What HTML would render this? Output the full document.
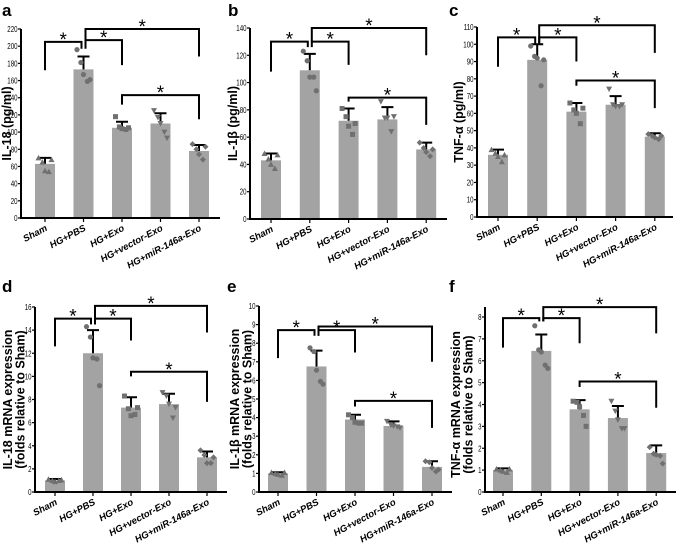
<!DOCTYPE html>
<html><head><meta charset="utf-8"><style>
html,body{margin:0;padding:0;background:#fff;}
svg{display:block;font-family:"Liberation Sans",Arial,sans-serif;}
</style></head><body>
<svg id="fig" width="676" height="549" viewBox="0 0 676 549"></svg>
<script>
const categories=["Sham","HG+PBS","HG+Exo","HG+vector-Exo","HG+miR-146a-Exo"];
// panel a
const aMeans=[63,173,105,110,78];
const aErr=[7,15,7,12,7];
const aPts=[[70,65,55,54,68],[196,181,167,159,161],[118,106,104,103,105],[125,117,110,100,93],[86,80,74,68,83]];
const aTicks=[0,20,40,60,80,100,120,140,160,180,200,220];
const aBrackets=[[0,1,205,172,197],[1,2,207,197,178],[1,4,220,205,188],[2,4,143,132,115]];
// panel b
const bMeans=[43,109,72,73,51];
const bErr=[5,12,9,9,5];
const bPts=[[48,44,40,37,47],[123,116,104,104,94],[81,75,68,62,70],[86,74,74,64,75],[56,52,49,46,51]];
const bTicks=[0,20,40,60,80,100,120,140];
const bBrackets=[[0,1,130,108,126],[1,2,130,126,113],[1,4,140,130,120],[2,4,89,86,69]];
// panel c
const cMeans=[36,91,61,65,46.5];
const cErr=[3,9,5,5,2];
const cPts=[[39,37,35,32,36],[99,93,92,76,91],[66,62,60,54,63],[74,65,64,64,65],[48,47,46,45,47]];
const cTicks=[0,10,20,30,40,50,60,70,80,90,100,110];
const cBrackets=[[0,1,104,87,100],[1,2,104,100,90],[1,4,111,100,95],[2,4,79,76,63]];
// panel d
const dMeans=[1,12,7.3,7.6,3];
const dErr=[0.12,2,0.9,0.9,0.5];
const dPts=[[1.1,1,0.9,1,1.05],[14.3,13.4,11.6,11.5,9.2],[8.3,7.2,6.6,6.7,7.3],[8.6,8.3,7.6,6.4,7.3],[3.6,3.2,2.5,2.5,3]];
const dTicks=[0,2,4,6,8,10,12,14,16];
const dBrackets=[[0,1,15,12.6,14.5],[1,2,15,14.5,13.1],[1,4,16.1,14.5,13.8],[2,4,10.4,10,7.8]];
// panel e
const eMeans=[1,6.75,3.9,3.55,1.35];
const eErr=[0.06,0.85,0.25,0.25,0.3];
const ePts=[[1.05,1,0.95,0.9,1.05],[7.75,7.55,6.55,5.95,5.8],[4.15,4,3.75,3.7,3.7],[3.8,3.6,3.55,3.5,3.45],[1.65,1.6,1.3,1.1,1.2]];
const eTicks=[0,1,2,3,4,5,6,7,8,9,10];
const eBrackets=[[0,1,8.7,7.2,8.4],[1,2,8.7,8.4,7.5],[1,4,8.9,8.4,7.0],[2,4,4.9,4.6,3.45]];
// panel f
const fMeans=[1,6.45,3.78,3.38,1.78];
const fErr=[0.08,0.75,0.42,0.55,0.35];
const fPts=[[1.05,1,0.95,0.9,1.05],[7.6,6.5,6.4,5.8,5.65],[4.15,4.1,3.9,3.5,3.0],[4.15,3.7,3.3,2.9,2.9],[2.05,1.75,1.7,1.65,1.3]];
const fTicks=[0,1,2,3,4,5,6,7,8];
const fBrackets=[[0,1,7.95,6.6,7.8],[1,2,7.95,7.8,6.8],[1,4,8.45,7.8,7.25],[2,4,5.05,4.8,3.85]];

const NS="http://www.w3.org/2000/svg";
const svg=document.getElementById('fig');
function mk(tag,attrs,parent,text){const e=document.createElementNS(NS,tag);for(const k in attrs)e.setAttribute(k,attrs[k]);if(text!==undefined)e.textContent=text;(parent||svg).appendChild(e);return e;}

const panels=[
 {id:'a',means:aMeans,err:aErr,pts:aPts,ticks:aTicks,br:aBrackets,ax:21,y0:218,yTop:29,vTop:220,x0:45,dx:38.5,xEnd:220,title:["IL-18 (pg/ml)"],tx:7,lx:2,ly:16},
 {id:'b',means:bMeans,err:bErr,pts:bPts,ticks:bTicks,br:bBrackets,ax:250,y0:219,yTop:28,vTop:140,x0:271,dx:38.8,xEnd:447,title:["IL-1β (pg/ml)"],tx:233,lx:228,ly:16},
 {id:'c',means:cMeans,err:cErr,pts:cPts,ticks:cTicks,br:cBrackets,ax:477,y0:217,yTop:27,vTop:110,x0:498,dx:39.2,xEnd:673,title:["TNF-α (pg/ml)"],tx:459,lx:449,ly:16},
 {id:'d',means:dMeans,err:dErr,pts:dPts,ticks:dTicks,br:dBrackets,ax:35,y0:492,yTop:307,vTop:16,x0:55,dx:38,xEnd:227,title:["IL-18 mRNA expression","(folds relative to Sham)"],tx:8,lx:2,ly:292},
 {id:'e',means:eMeans,err:eErr,pts:ePts,ticks:eTicks,br:eBrackets,ax:259,y0:492,yTop:306,vTop:10,x0:278,dx:38.5,xEnd:452,title:["IL-1β mRNA expression","(folds relative to Sham)"],tx:235,lx:227,ly:292},
 {id:'f',means:fMeans,err:fErr,pts:fPts,ticks:fTicks,br:fBrackets,ax:485,y0:492,yTop:317,vTop:8,x0:503,dx:38.3,xEnd:676,title:["TNF-α mRNA expression","(folds relative to Sham)"],tx:456,lx:449,ly:292,axTop:307}
];
const shapes=['tri','circ','sq','itri','diam'];
const offs=[-5,-2,0,3,5];

panels.forEach(p=>{
  const g=mk('g',{});
  
  
  const y=v=>p.y0-(v/p.vTop)*(p.y0-p.yTop);
  const x=i=>p.x0+i*p.dx;
  const lbl=mk('text',{x:p.lx,y:p.ly,'font-size':17,'font-weight':'bold'},g,p.id);
  
  
  p.means.forEach((m,i)=>{
    const r=mk('rect',{x:x(i)-10,y:y(m),width:20,height:p.y0-y(m),fill:'#a3a3a3'},g);
    
    
    const e=mk('path',{d:`M${x(i)},${y(m)}V${y(m+p.err[i])}M${x(i)-6},${y(m+p.err[i])}H${x(i)+6}`,stroke:'#000','stroke-width':2,fill:'none'},g);
    
    
    p.pts[i].forEach((v,k)=>{
      const px=x(i)+offs[k]*1.3, py=y(v), s=shapes[i];let el;
      if(s==='circ')el=mk('circle',{cx:px,cy:py,r:2.6,fill:'#707070'},g);
      else if(s==='sq')el=mk('rect',{x:px-2.5,y:py-2.5,width:5,height:5,fill:'#707070'},g);
      else if(s==='tri')el=mk('path',{d:`M${px},${py-3}L${px+3},${py+2.5}L${px-3},${py+2.5}Z`,fill:'#707070'},g);
      else if(s==='itri')el=mk('path',{d:`M${px},${py+3}L${px+3},${py-2.5}L${px-3},${py-2.5}Z`,fill:'#707070'},g);
      else el=mk('path',{d:`M${px},${py-3}L${px+3},${py}L${px},${py+3}L${px-3},${py}Z`,fill:'#707070'},g);
      
      
    });
  });
  const axTopPx=p.axTop||p.yTop;
  const ax=mk('path',{d:`M${p.ax},${axTopPx}V${p.y0}H${p.xEnd}`,stroke:'#000','stroke-width':2,fill:'none'},g);
  
  
  p.ticks.forEach(t=>{
    mk('line',{x1:p.ax-3,x2:p.ax,y1:y(t),y2:y(t),stroke:'#000','stroke-width':1.2},g);
    const tl=mk('text',{x:0,y:0,'font-size':8.5,'text-anchor':'end',transform:`translate(${p.ax-3.5},${y(t)+3}) scale(0.72,1)`},g,t);
    
    
  });
  categories.forEach((c,i)=>{
    mk('line',{x1:x(i),x2:x(i),y1:p.y0,y2:p.y0+4,stroke:'#000','stroke-width':1.2},g);
    const tx=x(i)+3, ty=p.y0+12;
    const cl=mk('text',{x:tx,y:ty,'font-size':9.5,'font-weight':'bold','font-style':'italic','text-anchor':'end',transform:`rotate(-28 ${tx} ${ty})`},g,c);
    
    
  });
  const cy=(p.y0+p.yTop)/2;
  p.title.forEach((t,k)=>{
    const tt=mk('text',{x:p.tx+k*12.5,y:cy,'font-size':12.5,'font-weight':'bold','text-anchor':'middle',transform:`rotate(-90 ${p.tx+k*12.5} ${cy})`,dy:4},g,t);
    
    
  });
  p.br.forEach(b=>{
    const x1=x(b[0])+(b[0]===1?2:0), x2=x(b[1])-(b[1]===1?2:0);
    const top=y(b[2]);
    const br=mk('path',{d:`M${x1},${y(b[3])}V${top}H${x2}V${y(b[4])}`,stroke:'#000','stroke-width':2,fill:'none'},g);
    
    
    const st=mk('text',{x:(x1+x2)/2,y:top+4,'font-size':19,'text-anchor':'middle'},g,'*');
    
    
  });
});
</script>
</body></html>
